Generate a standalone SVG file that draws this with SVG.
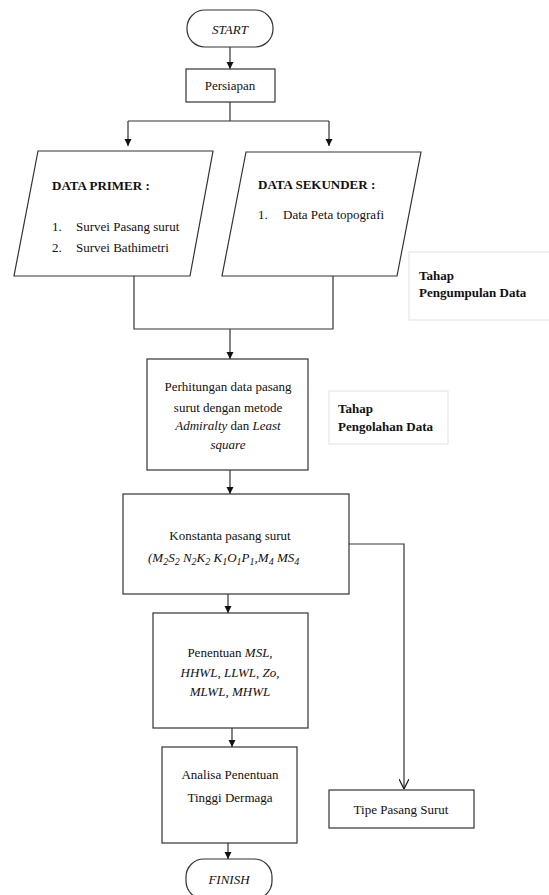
<svg xmlns="http://www.w3.org/2000/svg" width="549" height="895" viewBox="0 0 549 895">
<style>
.n{fill:#fff;stroke:#333;stroke-width:1.2}
.t{font-family:"Liberation Serif","Times New Roman",serif;font-size:13px;fill:#111}
.c{text-anchor:middle}
.i{font-style:italic}
.b{font-weight:bold}
.lbl{fill:#fff;stroke:#e2e2e2;stroke-width:1}
.e{fill:none;stroke:#333;stroke-width:1.2}
</style>
<defs>
<marker id="ah" viewBox="0 0 10 10" refX="10" refY="5" markerWidth="7" markerHeight="8" markerUnits="userSpaceOnUse" orient="auto"><path d="M0,0 L10,5 L0,10 z" fill="#111"/></marker>
<marker id="av" viewBox="0 0 10 10" refX="10" refY="5" markerWidth="10" markerHeight="10" markerUnits="userSpaceOnUse" orient="auto"><path d="M0,0 L10,5 L0,10" fill="none" stroke="#111" stroke-width="1.2"/></marker>
</defs>
<g id="connectors">
<path class="e" d="M230,47 V69" marker-end="url(#ah)"/>
<path class="e" d="M230,102 V121 M128,121 H329"/>
<path class="e" d="M128,121 V146" marker-end="url(#ah)"/>
<path class="e" d="M329,121 V146" marker-end="url(#ah)"/>
<path class="e" d="M134,276 V329 H333 V276"/>
<path class="e" d="M230,329 V359" marker-end="url(#ah)"/>
<path class="e" d="M230,470 V494" marker-end="url(#ah)"/>
<path class="e" d="M228,594 V613" marker-end="url(#ah)"/>
<path class="e" d="M349,544 H404 V789" marker-end="url(#av)"/>
<path class="e" d="M232,728 V747" marker-end="url(#ah)"/>
<path class="e" d="M228,843 V859" marker-end="url(#ah)"/>
</g>
<g id="start">
<rect class="n" x="187" y="10" width="86" height="37" rx="18"/>
<text class="t c i" x="230" y="34" font-size="12">START</text>
</g>
<g id="persiapan">
<rect class="n" x="186" y="69" width="89" height="33"/>
<text class="t c" x="230" y="90">Persiapan</text>
</g>
<g id="data-primer">
<path class="n" d="M38,151 H213 L190,276 H14 Z"/>
<text class="t b" x="52" y="190" font-size="12.5">DATA PRIMER :</text>
<text class="t" x="52" y="231">1.</text>
<text class="t" x="76" y="231">Survei Pasang surut</text>
<text class="t" x="52" y="252">2.</text>
<text class="t" x="76" y="252">Survei Bathimetri</text>
</g>
<g id="data-sekunder">
<path class="n" d="M246,152 H421 L397,276 H222 Z"/>
<text class="t b" x="258" y="189" font-size="11">DATA SEKUNDER :</text>
<text class="t" x="258" y="219" font-size="11.5">1.</text>
<text class="t" x="283" y="219" font-size="11.5">Data Peta topografi</text>
</g>
<g id="tahap-pengumpulan">
<rect class="lbl" x="409" y="252" width="145" height="68"/>
<text class="t b" x="419" y="280" font-size="11.5">Tahap</text>
<text class="t b" x="419" y="297" font-size="11.5">Pengumpulan Data</text>
</g>
<g id="perhitungan">
<rect class="n" x="147" y="359" width="161" height="111"/>
<text class="t c" x="228" y="391">Perhitungan data pasang</text>
<text class="t c" x="228" y="412">surut dengan metode</text>
<text class="t c" x="228" y="430"><tspan class="i">Admiralty</tspan> dan <tspan class="i">Least</tspan></text>
<text class="t c i" x="228" y="449">square</text>
</g>
<g id="tahap-pengolahan">
<rect class="lbl" x="329" y="391" width="119" height="53"/>
<text class="t b" x="338" y="413" font-size="12.5">Tahap</text>
<text class="t b" x="338" y="431" font-size="12.5">Pengolahan Data</text>
</g>
<g id="konstanta">
<rect class="n" x="123" y="494" width="226" height="100"/>
<text class="t c" x="230" y="540">Konstanta pasang surut</text>
<text class="t i" x="148" y="562" font-size="13.5">(M<tspan font-size="10" dy="3">2</tspan><tspan dy="-3">S</tspan><tspan font-size="10" dy="3">2</tspan><tspan dy="-3"> N</tspan><tspan font-size="10" dy="3">2</tspan><tspan dy="-3">K</tspan><tspan font-size="10" dy="3">2</tspan><tspan dy="-3">  K</tspan><tspan font-size="10" dy="3">1</tspan><tspan dy="-3">O</tspan><tspan font-size="10" dy="3">1</tspan><tspan dy="-3">P</tspan><tspan font-size="10" dy="3">1</tspan><tspan dy="-3">,M</tspan><tspan font-size="10" dy="3">4</tspan><tspan dy="-3"> MS</tspan><tspan font-size="10" dy="3">4</tspan></text>
</g>
<g id="penentuan">
<rect class="n" x="153" y="613" width="155" height="115"/>
<text class="t c" x="230" y="657">Penentuan <tspan class="i">MSL,</tspan></text>
<text class="t c i" x="230" y="677">HHWL, LLWL, Zo,</text>
<text class="t c i" x="230" y="696">MLWL, MHWL</text>
</g>
<g id="analisa">
<rect class="n" x="162" y="747" width="135" height="96"/>
<text class="t c" x="230" y="779">Analisa Penentuan</text>
<text class="t c" x="230" y="802">Tinggi Dermaga</text>
</g>
<g id="tipe">
<rect class="n" x="329" y="790" width="145" height="38"/>
<text class="t c" x="401" y="814">Tipe Pasang Surut</text>
</g>
<g id="finish">
<rect class="n" x="186" y="859" width="86" height="40" rx="18"/>
<text class="t c i" x="229" y="884" font-size="11">FINISH</text>
</g>
</svg>
